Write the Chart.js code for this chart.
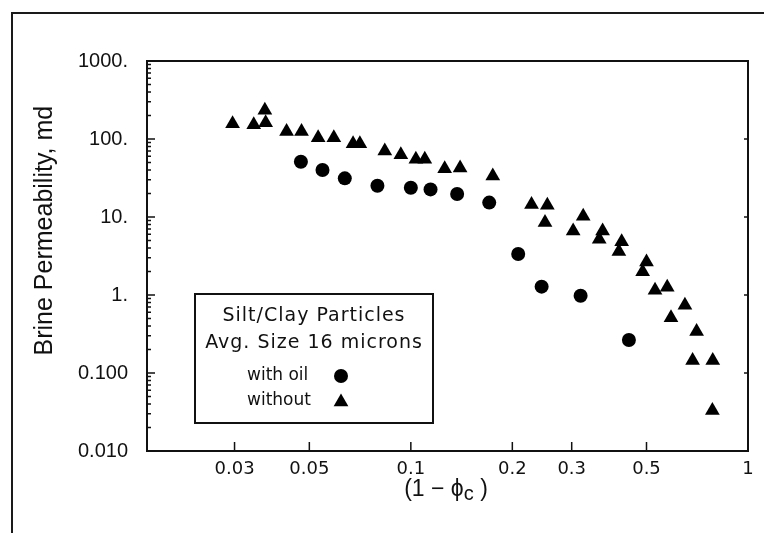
<!DOCTYPE html>
<html>
<head>
<meta charset="utf-8">
<script src="https://cdn.jsdelivr.net/npm/chart.js@4.4.1/dist/chart.umd.min.js"></script>
<style>
  html, body { margin: 0; padding: 0; background: #fff; }
  #wrap { position: relative; width: 764px; height: 533px; }
  #frame { position: absolute; left: 11px; top: 12px; right: 0; bottom: 0;
           border-left: 2px solid #1a1a1a; border-top: 2px solid #1a1a1a; pointer-events: none; }
</style>
</head>
<body>
<div id="wrap">
  <canvas id="permChart" width="764" height="533"></canvas>
  <div id="frame"></div>
</div>
<script>
// valeurs (1 - phi_c, perméabilité en md)
const withOilX = [0.0472, 0.0547, 0.0637, 0.0796, 0.100, 0.1144, 0.1372, 0.1708, 0.2082, 0.2443, 0.3188, 0.4434];
const withOilY = [51, 40, 31.3, 25.2, 23.7, 22.6, 19.7, 15.3, 3.35, 1.28, 0.98, 0.265];

const withoutX = [0.0296, 0.0342, 0.0369, 0.0371, 0.0428, 0.0474, 0.0531, 0.0591, 0.0674, 0.0706,
                  0.0837, 0.0934, 0.1035, 0.110, 0.126, 0.140, 0.175, 0.228, 0.254, 0.250,
                  0.3245, 0.303, 0.3705, 0.362, 0.422, 0.414, 0.500, 0.487, 0.530, 0.576,
                  0.650, 0.591, 0.704, 0.685, 0.786, 0.784];
const withoutY = [157, 152, 233, 162, 125, 125, 104, 104, 87, 87,
                  70, 63, 55, 55, 41.5, 42.5, 33.5, 14.5, 14.1, 8.5,
                  10.2, 6.6, 6.6, 5.2, 4.8, 3.6, 2.65, 1.98, 1.15, 1.26,
                  0.74, 0.51, 0.34, 0.145, 0.145, 0.033];

const xTickValues = [0.03, 0.05, 0.1, 0.2, 0.3, 0.5, 1];
const xTickLabels = ['0.03', '0.05', '0.1', '0.2', '0.3', '0.5', '1'];
const yTickValues = [0.01, 0.1, 1, 10, 100, 1000];
const yTickLabels = ['0.010', '0.100', '1.', '10.', '100.', '1000.'];

const legendTitle = ['Silt/Clay Particles', 'Avg. Size 16 microns'];
const seriesNames = ['with oil', 'without'];

const ink = '#111';

// cadre + graduations tournées vers l'intérieur
const cadre = {
    id: 'cadre',
    afterDraw(chart) {
        const c = chart.ctx, a = chart.chartArea;
        const xs = chart.scales.x, ys = chart.scales.y;
        c.save();
        c.strokeStyle = ink;
        c.lineWidth = 2;
        c.strokeRect(a.left, a.top, a.right - a.left, a.bottom - a.top);
        c.lineWidth = 1.5;
        c.beginPath();
        yTickValues.forEach((v, i) => {
            const py = ys.getPixelForValue(v);
            c.moveTo(a.left, py); c.lineTo(a.left + 8, py);
            c.moveTo(a.right, py); c.lineTo(a.right - 4, py);
            if (i < yTickValues.length - 1) {
                for (let m = 2; m < 10; m++) {
                    const pm = ys.getPixelForValue(v * m);
                    c.moveTo(a.left, pm); c.lineTo(a.left + 4, pm);
                }
            }
        });
        xTickValues.forEach(v => {
            const px = xs.getPixelForValue(v);
            c.moveTo(px, a.bottom); c.lineTo(px, a.bottom - 9);
        });
        c.stroke();
        c.restore();
    }
};

// titres des axes (indice sur phi)
const titres = {
    id: 'titres',
    afterDraw(chart) {
        const c = chart.ctx, a = chart.chartArea;
        c.save();
        c.fillStyle = ink;
        c.font = '25px "Liberation Sans"';
        c.textAlign = 'center';
        c.textBaseline = 'middle';
        c.translate(45, a.top + (a.bottom - a.top) * 0.435);
        c.rotate(-Math.PI / 2);
        c.fillText('Brine Permeability, md', 0, 0);
        c.restore();

        c.save();
        c.fillStyle = ink;
        c.textBaseline = 'middle';
        c.textAlign = 'left';
        const f1 = '23px "Liberation Sans"', f2 = '20px "Liberation Sans"';
        const p1 = '(1 \u2212 \u03D5', p2 = 'c', p3 = ' )';
        c.font = f1; const w1 = c.measureText(p1).width, w3 = c.measureText(p3).width;
        c.font = f2; const w2 = c.measureText(p2).width;
        const x = 446 - (w1 + w2 + w3) / 2;
        const y = 490;
        c.font = f1; c.fillText(p1, x, y);
        c.font = f2; c.fillText(p2, x + w1, y + 4);
        c.font = f1; c.fillText(p3, x + w1 + w2, y);
        c.restore();
    }
};

// légende encadrée dans le graphique
const legende = {
    id: 'legende',
    afterDraw(chart) {
        const c = chart.ctx, a = chart.chartArea;
        const bx = a.left + 48, by = a.top + 233, bw = 238, bh = 129;
        c.save();
        c.fillStyle = '#fff';
        c.fillRect(bx, by, bw, bh);
        c.strokeStyle = ink;
        c.lineWidth = 2;
        c.strokeRect(bx, by, bw, bh);
        c.fillStyle = ink;
        c.font = '19px "DejaVu Sans"';
        c.letterSpacing = '1px';
        c.textAlign = 'center';
        c.textBaseline = 'middle';
        c.fillText(legendTitle[0], bx + bw / 2, by + 22);
        c.fillText(legendTitle[1], bx + bw / 2, by + 49);
        c.letterSpacing = '0px';
        c.font = '17px "DejaVu Sans"';
        c.textAlign = 'left';
        const styles = ['circle', 'triangle'];
        const radii = [7, 8.5];
        seriesNames.forEach((n, i) => {
            const ly = by + 82 + i * 25;
            c.fillStyle = ink;
            c.fillText(n, bx + 52, ly);
            c.fillStyle = '#000';
            Chart.helpers.drawPoint(c, { pointStyle: styles[i], radius: radii[i], rotation: 0, borderWidth: 0 }, bx + 146, ly + (i ? 1 : 0));
        });
        c.restore();
    }
};

const ctx = document.getElementById('permChart').getContext('2d');
new Chart(ctx, {
    type: 'scatter',
    data: {
        datasets: [
            {
                label: seriesNames[0],
                data: withOilX.map((x, i) => ({ x, y: withOilY[i] })),
                pointStyle: 'circle',
                pointRadius: 7,
                backgroundColor: '#000',
                borderColor: '#000',
                borderWidth: 0
            },
            {
                label: seriesNames[1],
                data: withoutX.map((x, i) => ({ x, y: withoutY[i] })),
                pointStyle: 'triangle',
                pointRadius: 8.5,
                backgroundColor: '#000',
                borderColor: '#000',
                borderWidth: 0
            }
        ]
    },
    options: {
        responsive: false,
        animation: false,
        layout: { padding: { top: 61, right: 16, left: 0, bottom: 0 } },
        plugins: { legend: { display: false }, tooltip: { enabled: false } },
        scales: {
            x: {
                type: 'logarithmic',
                min: 0.0165,
                max: 1,
                grid: { display: false, drawTicks: false },
                border: { display: false },
                afterBuildTicks: s => { s.ticks = xTickValues.map(v => ({ value: v })); },
                afterFit: s => { s.height = 82; },
                ticks: {
                    autoSkip: false,
                    maxRotation: 0,
                    padding: 8,
                    color: ink,
                    font: { family: 'DejaVu Sans', size: 18 },
                    callback: (v, i) => xTickLabels[i]
                }
            },
            y: {
                type: 'logarithmic',
                min: 0.01,
                max: 1000,
                grid: { display: false, drawTicks: false },
                border: { display: false },
                afterBuildTicks: s => { s.ticks = yTickValues.map(v => ({ value: v })); },
                afterFit: s => { s.width = 147; },
                ticks: {
                    autoSkip: false,
                    padding: 19,
                    color: ink,
                    font: { family: 'Liberation Sans', size: 20 },
                    callback: (v, i) => yTickLabels[i]
                }
            }
        }
    },
    plugins: [cadre, titres, legende]
});
</script>
</body>
</html>
